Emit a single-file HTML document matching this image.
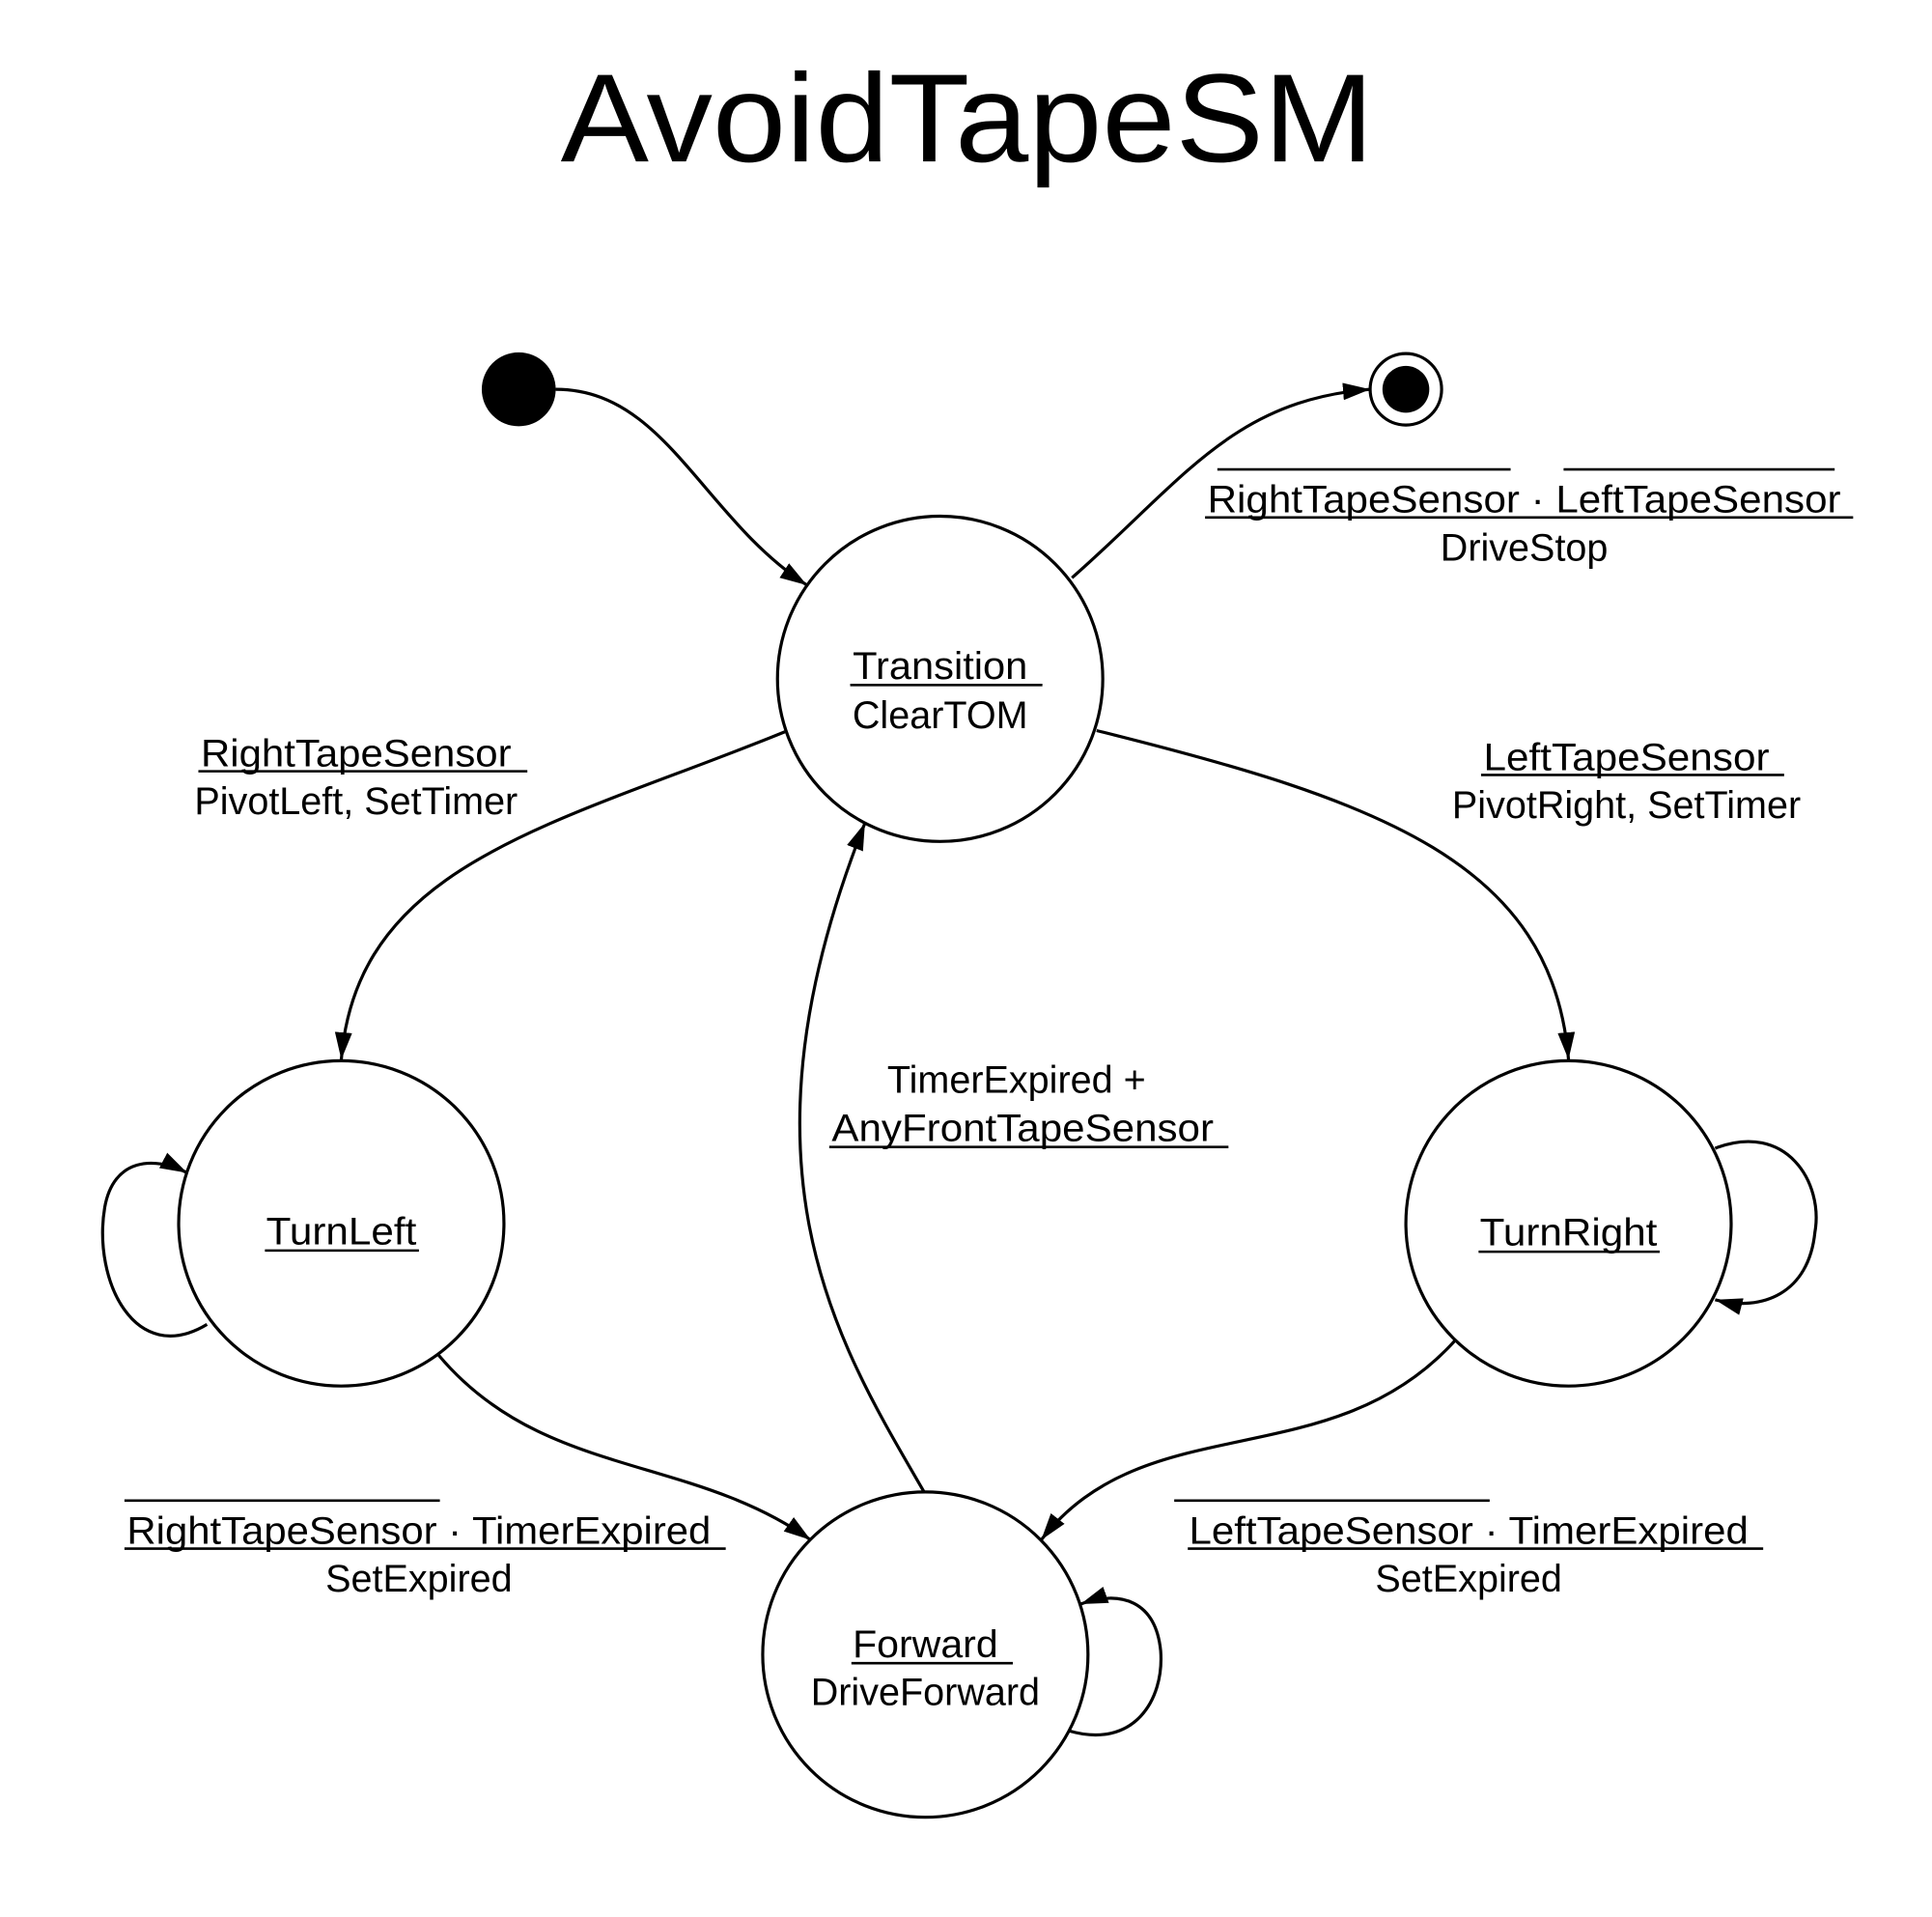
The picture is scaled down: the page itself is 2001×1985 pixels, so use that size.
<!DOCTYPE html>
<html><head><meta charset="utf-8"><style>html,body{margin:0;padding:0;background:#fff}svg{display:block}</style></head>
<body>
<svg width="2001" height="1985" viewBox="0 0 1568 1556" preserveAspectRatio="none" xmlns="http://www.w3.org/2000/svg" font-family="Liberation Sans, Arial, sans-serif">
<defs><marker id="a" markerWidth="12" markerHeight="10" refX="11" refY="5" orient="auto" markerUnits="userSpaceOnUse"><path d="M0,0 L12,5 L0,10 L3,5 Z" transform="scale(1.6) translate(-4.5,-1.9)" fill="#000"/></marker>
<marker id="b" markerWidth="24" markerHeight="16" refX="22" refY="8" orient="auto" markerUnits="userSpaceOnUse"><path d="M0,1 L22,8 L0,15 Z" fill="#000"/></marker></defs>
<rect width="1568" height="1556" fill="#fff"/>
<text x="785" y="131" font-size="102" text-anchor="middle" textLength="660" lengthAdjust="spacingAndGlyphs">AvoidTapeSM</text>
<g fill="none" stroke="#000" stroke-width="2.5">
<circle cx="763" cy="551" r="132"/>
<circle cx="277" cy="993" r="132"/>
<circle cx="1273" cy="993" r="132"/>
<circle cx="751" cy="1343" r="132"/>
<circle cx="1141" cy="316" r="29"/>
<path d="M451,316 C540,316 570,420 655,475" marker-end="url(#b)"/>
<path d="M870,469 C960,390 1000,325 1112,316" marker-end="url(#b)"/>
<path d="M637,594 C450,670 290,700 277,860" marker-end="url(#b)"/>
<path d="M890,593 C1120,650 1260,700 1273,860" marker-end="url(#b)"/>
<path d="M750,1211 C680,1090 590,950 702,668" marker-end="url(#b)"/>
<path d="M356,1100 C440,1200 560,1180 658,1250" marker-end="url(#b)"/>
<path d="M1181,1088 C1080,1200 930,1140 845,1250" marker-end="url(#b)"/>
<path d="M168,1075 C110,1110 75,1040 85,980 C92,940 125,938 152,952" marker-end="url(#b)"/>
<path d="M1392,932 C1450,910 1480,960 1473,1000 C1468,1050 1430,1065 1392,1055" marker-end="url(#b)"/>
<path d="M868,1405 C920,1420 945,1380 942,1340 C938,1300 910,1290 877,1302" marker-end="url(#b)"/>
</g>
<circle cx="421" cy="316" r="30" fill="#000"/>
<circle cx="1141" cy="316" r="19" fill="#000"/>
<g font-size="31" text-anchor="middle" fill="#000">
<text x="763" y="551" textLength="142" lengthAdjust="spacingAndGlyphs">Transition</text>
<text x="763" y="591">ClearTOM</text>
<text x="277" y="1010" textLength="122" lengthAdjust="spacingAndGlyphs">TurnLeft</text>
<text x="1273" y="1011" textLength="144" lengthAdjust="spacingAndGlyphs">TurnRight</text>
<text x="751" y="1345" textLength="118" lengthAdjust="spacingAndGlyphs">Forward</text>
<text x="751" y="1384">DriveForward</text>
<text x="289" y="622" textLength="252" lengthAdjust="spacingAndGlyphs">RightTapeSensor</text>
<text x="289" y="661">PivotLeft, SetTimer</text>
<text x="1320" y="625" textLength="232" lengthAdjust="spacingAndGlyphs">LeftTapeSensor</text>
<text x="1320" y="664">PivotRight, SetTimer</text>
<text x="825" y="887">TimerExpired +</text>
<text x="830" y="926" textLength="310" lengthAdjust="spacingAndGlyphs">AnyFrontTapeSensor</text>
<text x="1237" y="416" textLength="514" lengthAdjust="spacingAndGlyphs">RightTapeSensor · LeftTapeSensor</text>
<text x="1237" y="455">DriveStop</text>
<text x="340" y="1253" textLength="474" lengthAdjust="spacingAndGlyphs">RightTapeSensor · TimerExpired</text>
<text x="340" y="1292">SetExpired</text>
<text x="1192" y="1253" textLength="454" lengthAdjust="spacingAndGlyphs">LeftTapeSensor · TimerExpired</text>
<text x="1192" y="1292">SetExpired</text>
</g>
<g stroke="#000" stroke-width="2">
<line x1="690" y1="556" x2="846" y2="556"/>
<line x1="215" y1="1015" x2="340" y2="1015"/>
<line x1="1200" y1="1016" x2="1347" y2="1016"/>
<line x1="691" y1="1350" x2="822" y2="1350"/>
<line x1="161" y1="626" x2="428" y2="626"/>
<line x1="1202" y1="629" x2="1448" y2="629"/>
<line x1="673" y1="931" x2="997" y2="931"/>
<line x1="978" y1="420" x2="1504" y2="420"/>
<line x1="988" y1="381" x2="1226" y2="381"/>
<line x1="1269" y1="381" x2="1489" y2="381"/>
<line x1="101" y1="1257" x2="589" y2="1257"/>
<line x1="101" y1="1218" x2="357" y2="1218"/>
<line x1="964" y1="1257" x2="1431" y2="1257"/>
<line x1="953" y1="1218" x2="1209" y2="1218"/>
</g>
</svg>
</body></html>
